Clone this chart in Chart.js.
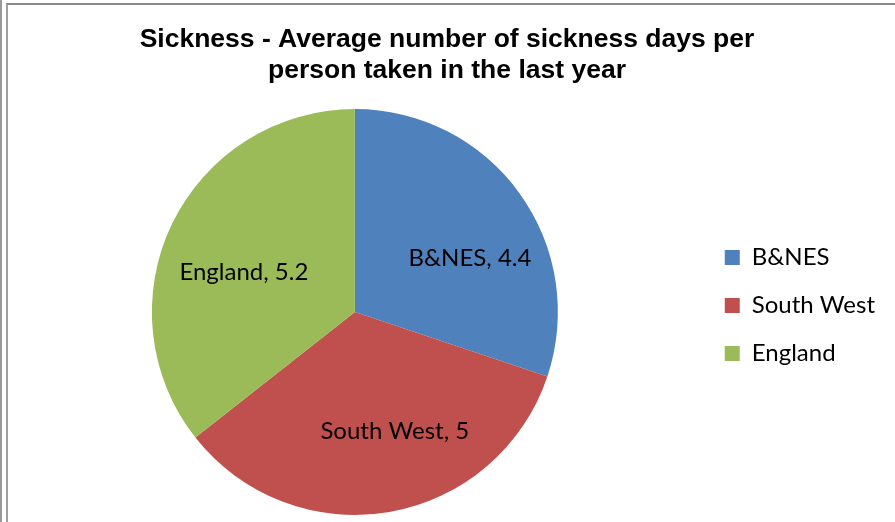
<!DOCTYPE html>
<html>
<head>
<meta charset="utf-8">
<script src="https://cdn.jsdelivr.net/npm/chart.js@4"></script>
<style>
    html, body { margin: 0; padding: 0; background: #fff; }
    #frame { position: absolute; left: 0; top: 0; width: 895px; height: 522px; border-left: 2px solid #9a9a9a; box-sizing: border-box; }
    #inner { position: absolute; left: 4px; top: 3px; right: 0; bottom: 0; border-left: 2px solid #a0a0a0; border-top: 2px solid #8a8a8a; }
    #wrap { position: absolute; left: 0; top: 0; width: 895px; height: 522px; }
</style>
</head>
<body>
<div id="frame"><div id="inner"></div></div>
<div id="wrap"><canvas id="sicknessPie" width="895" height="522"></canvas></div>
<script>
const titleLines = ['Sickness - Average number of sickness days per', 'person taken in the last year'];
const areas = ['B&NES', 'South West', 'England'];
const avgDays = [4.4, 5, 5.2];
const sliceColours = ['#4F81BD', '#C0504D', '#9BBB59'];

// where each label sits inside its slice: share of the sweep, share of the radius
const labelPlacement = [
    { along: 0.6, out: 0.625 },
    { along: 0.43, out: 0.62 },
    { along: 0.45, out: 0.58 }
];

// writes "Name, value" inside each slice, like Excel's data labels
const sliceLabels = {
    id: 'sliceLabels',
    afterDatasetsDraw(chart) {
        const ctx = chart.ctx;
        const meta = chart.getDatasetMeta(0);
        ctx.save();
        ctx.font = '24px Lato';
        ctx.fillStyle = '#000';
        ctx.textAlign = 'center';
        ctx.textBaseline = 'middle';
        meta.data.forEach((arc, i) => {
            const p = arc.getProps(['x', 'y', 'startAngle', 'endAngle', 'outerRadius'], true);
            const place = labelPlacement[i];
            const a = p.startAngle + (p.endAngle - p.startAngle) * place.along;
            const r = p.outerRadius * place.out;
            ctx.fillText(areas[i] + ', ' + avgDays[i], p.x + Math.cos(a) * r, p.y + Math.sin(a) * r);
        });
        ctx.restore();
    }
};

// the legend column sits a little lower than Chart.js centres it
const legendNudge = {
    id: 'legendNudge',
    afterLayout(chart) {
        chart.legend.top += 48;
        chart.legend.bottom += 48;
    }
};

new Chart(document.getElementById('sicknessPie'), {
    type: 'pie',
    data: {
        labels: areas,
        datasets: [{
            data: avgDays,
            backgroundColor: sliceColours,
            borderWidth: 0
        }]
    },
    options: {
        responsive: false,
        animation: false,
        devicePixelRatio: 1,
        layout: { padding: { left: 9, right: 10, top: 0, bottom: 7 } },
        plugins: {
            title: {
                display: true,
                text: titleLines,
                color: '#000',
                font: { family: 'Liberation Sans', size: 26.5, weight: 'bold', lineHeight: 1.17 },
                padding: { top: 24, bottom: 23 }
            },
            legend: {
                position: 'right',
                labels: {
                    color: '#000',
                    font: { family: 'Lato', size: 24 },
                    boxWidth: 15,
                    boxHeight: 15,
                    padding: 24
                }
            },
            tooltip: { enabled: false }
        }
    },
    plugins: [sliceLabels, legendNudge]
});
</script>
</body>
</html>
